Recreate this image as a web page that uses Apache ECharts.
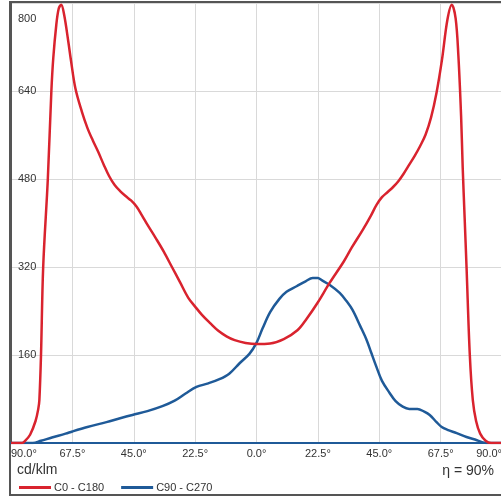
<!DOCTYPE html>
<html>
<head>
<meta charset="utf-8">
<script src="https://cdn.jsdelivr.net/npm/echarts@6/dist/echarts.min.js"></script>
<style>
  html, body { margin: 0; padding: 0; background: #fff; }
  #chart { width: 501px; height: 497px; }
</style>
</head>
<body>
<div id="chart"></div>
<script>
// C0 - C180 (angle in degrees, cd/klm)
const redAngles = [-90, -86, -85, -83, -81, -80, -79.6, -79, -78.2, -76.5, -75.2, -74.5, -73.4, -72.5, -71.6, -70.5, -69, -68, -66.4, -64, -62, -60, -58, -56, -54, -52, -50, -48, -46, -44, -42, -40, -37, -34, -31, -28, -25, -22.5, -20, -17, -14, -11, -8, -4, 0, 5, 10, 15, 18.4, 22.4, 26.8, 32, 35, 38.9, 42, 44, 46, 48, 50, 52, 54, 56, 58, 60, 62, 64, 66, 68, 70, 71.6, 73, 74, 75, 75.6, 76.3, 77, 78.2, 79.3, 80.5, 82, 84, 86, 90];
const redValues = [0, 0, 3, 15, 40, 62, 78, 160, 320, 480, 640, 700, 760, 790, 797, 778, 730, 695, 645, 602, 573, 550, 529, 506, 485, 469, 458, 449, 441, 430, 414, 397, 373, 348, 320, 292, 264, 248, 233, 218, 204, 194, 187, 182, 180, 181, 189, 205, 226, 255, 291, 330, 356, 387, 414, 433, 447, 456, 465, 476, 490, 506, 522, 540, 561, 592, 637, 697, 770, 797, 772, 705, 595, 500, 410, 320, 160, 78, 40, 17, 4, 0, 0];

// C90 - C270
const blueAngles = [-90, -82, -79, -75, -70, -67.5, -62, -55, -50, -45.5, -40, -34.5, -30, -26, -22, -18, -13.6, -10, -6.2, -2.6, 0, 2.2, 5, 8.4, 11, 14.7, 18, 20.6, 22.5, 23.9, 27, 30.5, 33, 35.2, 38, 40.4, 42, 44, 46, 48.8, 51, 53.6, 56, 59, 61.5, 63.5, 66, 67.9, 70, 73.4, 77, 80.8, 83, 86, 90];
const blueValues = [0, 0, 4, 10, 17, 21, 29, 38, 45, 51, 58, 67, 77, 90, 102, 108, 116, 126, 145, 162, 182, 208, 238, 262, 275, 285, 294, 300, 300, 296, 287, 273, 258, 242, 213, 187, 165, 138, 113, 91, 76, 66, 62, 62, 57, 51, 38, 29, 24, 18, 11, 5, 1, 0, 0];

const yTicks = [0, 160, 320, 480, 640, 800];
const seriesNames = ['C0 - C180', 'C90 - C270'];

const font = 'Liberation Sans, Arial, sans-serif';
const zip = (xs, ys) => xs.map((x, i) => [x, ys[i]]);

const chart = echarts.init(document.getElementById('chart'));
chart.setOption({
  animation: false,
  textStyle: { fontFamily: font },
  grid: { left: 11, right: -1, top: 3, bottom: 54, containLabel: false, outerBoundsMode: 'none' },
  xAxis: {
    type: 'value',
    min: -90,
    max: 90,
    interval: 22.5,
    axisLine: { show: true, onZero: false, lineStyle: { color: '#1f5a98', width: 2 } },
    axisTick: { show: false },
    splitLine: { show: true, lineStyle: { color: '#d9d9d9', width: 1 } },
    axisLabel: {
      margin: 5,
      fontSize: 11,
      color: '#333',
      fontFamily: font,
      alignMinLabel: 'left',
      alignMaxLabel: 'right',
      formatter: v => Math.abs(v).toFixed(1) + '°'
    }
  },
  yAxis: {
    type: 'value',
    min: yTicks[0],
    max: yTicks[yTicks.length - 1],
    interval: 160,
    axisLine: { show: true, onZero: false, lineStyle: { color: '#555', width: 2 } },
    axisTick: { show: false },
    splitLine: { show: true, lineStyle: { color: '#d9d9d9', width: 1 } },
    axisLabel: {
      inside: true,
      margin: 7,
      fontSize: 11,
      lineHeight: 16,
      color: '#333',
      fontFamily: font,
      showMinLabel: false,
      formatter: v => (v === 800 ? '\n\n800' : String(v))
    }
  },
  legend: {
    left: 14,
    top: 477,
    itemWidth: 32,
    itemHeight: 3,
    itemGap: 17,
    icon: 'rect',
    textStyle: { fontSize: 11, color: '#333', fontFamily: font, padding: [0, 0, 0, -2] },
    data: seriesNames
  },
  graphic: [
    {
      type: 'rect',
      shape: { x: 10, y: 2, width: 495, height: 493 },
      style: { fill: 'none', stroke: '#555', lineWidth: 2 },
      silent: true
    },
    {
      type: 'text',
      left: 17,
      top: 463,
      style: { text: 'cd/klm', font: '14px ' + font, fill: '#333' }
    },
    {
      type: 'text',
      right: 7,
      top: 464,
      style: { text: 'η = 90%', font: '14px ' + font, fill: '#333' }
    }
  ],
  series: [
    {
      name: seriesNames[0],
      type: 'line',
      data: zip(redAngles, redValues),
      smooth: 0.35,
      showSymbol: false,
      symbol: 'none',
      lineStyle: { color: '#d9232e', width: 2.5 },
      itemStyle: { color: '#d9232e' },
      z: 3
    },
    {
      name: seriesNames[1],
      type: 'line',
      data: zip(blueAngles, blueValues),
      smooth: 0.35,
      showSymbol: false,
      symbol: 'none',
      lineStyle: { color: '#1f5a98', width: 2.5 },
      itemStyle: { color: '#1f5a98' },
      z: 2
    }
  ]
});
</script>
</body>
</html>
